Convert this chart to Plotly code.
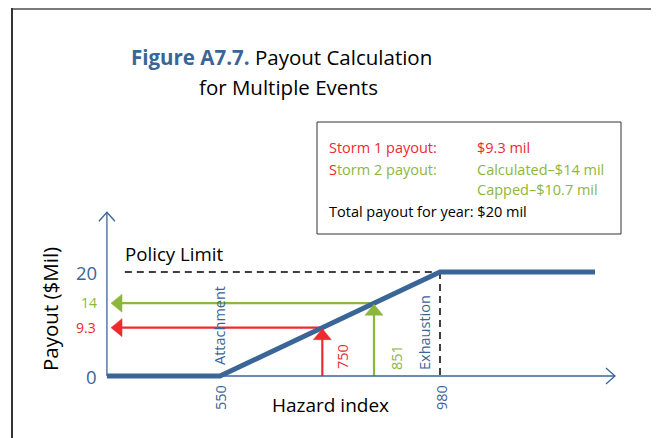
import plotly.graph_objects as go

# ---- data ----
hazard_curve = [329, 550, 980, 1283]
payout_curve = [0, 0, 20, 20]
attachment = 550
exhaustion = 980
policy_limit = 20
storm_index = [750, 851]
storm_payout = [9.3, 14]
storm_colors = ["#EE2A2F", "#8DB63C"]
y_tick_vals = [0, 20]
x_axis_extent = [329, 1322]
y_axis_top = 31.5

BLUE = "#3A6597"
RED = storm_colors[0]
GREEN = storm_colors[1]
FONT = "Open Sans"

OFF = 8  # page offset of the figure (body margin)
W, H = 659 - OFF, 438 - OFF
# axis scale: 430 index units = 220 px; 20 $mil = 104 px
X0 = 550 - (220 - OFF) * 430 / 220
X1 = X0 + W * 430 / 220
Y1 = (376 - OFF) / 5.2
Y0 = -(H - (376 - OFF)) / 5.2


def px(x):
    return (x - OFF) / W


def py(y):
    return 1 - (y - OFF) / H


fig = go.Figure()

# storm lines (under the curve)
for idx, pay, col in zip(storm_index, storm_payout, storm_colors):
    fig.add_trace(go.Scatter(x=[x_axis_extent[0] + 16, idx], y=[pay, pay], mode="lines",
                             line=dict(color=col, width=2.2), hoverinfo="skip"))
    fig.add_trace(go.Scatter(x=[idx, idx], y=[0, pay], mode="lines",
                             line=dict(color=col, width=2.2), hoverinfo="skip"))

# policy limit dashed lines
fig.add_trace(go.Scatter(x=[364, exhaustion], y=[policy_limit, policy_limit], mode="lines",
                         line=dict(color="black", width=1.5, dash="7px,5px"), hoverinfo="skip"))
fig.add_trace(go.Scatter(x=[exhaustion, exhaustion], y=[policy_limit, 0], mode="lines",
                         line=dict(color="black", width=1.5, dash="7px,5px"), hoverinfo="skip"))

# axes lines
fig.add_trace(go.Scatter(x=x_axis_extent, y=[0, 0], mode="lines",
                         line=dict(color=BLUE, width=1.3), hoverinfo="skip"))
fig.add_trace(go.Scatter(x=[x_axis_extent[0], x_axis_extent[0]], y=[0, y_axis_top], mode="lines",
                         line=dict(color=BLUE, width=1.3), hoverinfo="skip"))

# payout curve
fig.add_trace(go.Scatter(x=hazard_curve, y=payout_curve, mode="lines",
                         line=dict(color=BLUE, width=5), hoverinfo="skip"))

shapes = []


def pshape(xa, ya, path, color, fill=None, width=1.3):
    d = dict(type="path", xref="x", yref="y", xsizemode="pixel", ysizemode="pixel",
             xanchor=xa, yanchor=ya, path=path, line=dict(color=color, width=width))
    if fill:
        d["fillcolor"] = fill
        d["line"] = dict(color=fill, width=0.5)
    return d


# axis chevrons
shapes.append(pshape(x_axis_extent[1], 0, "M -9,8 L 0,0 L -9,-8", BLUE))
shapes.append(pshape(x_axis_extent[0], y_axis_top, "M -8,-9 L 0,0 L 8,-9", BLUE))

# storm arrowheads
for idx, pay, col in zip(storm_index, storm_payout, storm_colors):
    shapes.append(pshape(x_axis_extent[0] + 8, pay, "M 11,9 L 0,0 L 11,-9 Z", col, fill=col))
    shapes.append(pshape(idx, pay, "M -9,-12 L 0,-1 L 9,-12 Z", col, fill=col))

# frame
shapes.append(dict(type="line", xref="paper", yref="paper", x0=px(11), x1=px(665), y0=py(9), y1=py(9),
                   line=dict(color="#7a7a7a", width=2)))
shapes.append(dict(type="line", xref="paper", yref="paper", x0=px(12), x1=px(12), y0=py(8), y1=py(445),
                   line=dict(color="#333333", width=2)))
# info box
shapes.append(dict(type="rect", xref="paper", yref="paper", x0=px(317), x1=px(621), y0=py(234), y1=py(122),
                   line=dict(color="#333333", width=1), fillcolor="white"))

ann = []


def text(x, y, s, size, color="black", xanchor="center", yanchor="middle", angle=0):
    ann.append(dict(x=px(x), y=py(y), xref="paper", yref="paper", text=s, showarrow=False,
                    font=dict(family=FONT, size=size, color=color), xanchor=xanchor,
                    yanchor=yanchor, textangle=angle))


# title
text(281, 57, f"<b><span style='color:{BLUE}'>Figure A7.7.</span></b> Payout Calculation", 20.5)
text(288, 87, "for Multiple Events", 20.5)

# info box text
BS = 14.5
text(327, 147, "Storm 1 payout:", BS, RED, xanchor="left")
text(475, 147, "$9.3 mil", BS, RED, xanchor="left")
text(327, 169, f"<span style='color:{RED}'>S</span>torm 2 payout:", BS, GREEN, xanchor="left")
text(475, 169, "Calculated–$14 mil", BS, GREEN, xanchor="left")
text(475, 190, "Capped–$10.7 mil", BS, GREEN, xanchor="left")
text(327, 211, "Total payout for year: $20 mil", BS, "black", xanchor="left")

# labels
text(123, 253, "Policy Limit", 18.7, "black", xanchor="left")
text(99, 272, str(y_tick_vals[1]), 18.5, BLUE, xanchor="right")
text(99, 376, str(y_tick_vals[0]), 18.5, BLUE, xanchor="right")
text(99, 302, "14", 14, GREEN, xanchor="right")
text(98, 327, "9.3", 14, RED, xanchor="right")
text(50, 309, "Payout ($Mil)", 20.5, "black", angle=-90)
text(330, 405, "Hazard index", 19, "black")
text(219, 326, "Attachment", 14.5, BLUE, angle=-90)
text(424, 333, "Exhaustion", 14.5, BLUE, angle=-90)
text(220, 398, str(attachment), 14.5, BLUE, angle=-90)
text(441, 398, str(exhaustion), 14.5, BLUE, angle=-90)
text(342, 357, str(storm_index[0]), 14.5, RED, angle=-90)
text(396, 358, str(storm_index[1]), 14.5, GREEN, angle=-90)

fig.update_layout(
    width=W, height=H, margin=dict(l=0, r=0, t=0, b=0),
    paper_bgcolor="white", plot_bgcolor="white", showlegend=False,
    xaxis=dict(range=[X0, X1], visible=False, fixedrange=True),
    yaxis=dict(range=[Y0, Y1], visible=False, fixedrange=True),
    shapes=shapes, annotations=ann,
)

fig.write_html("out.html")
